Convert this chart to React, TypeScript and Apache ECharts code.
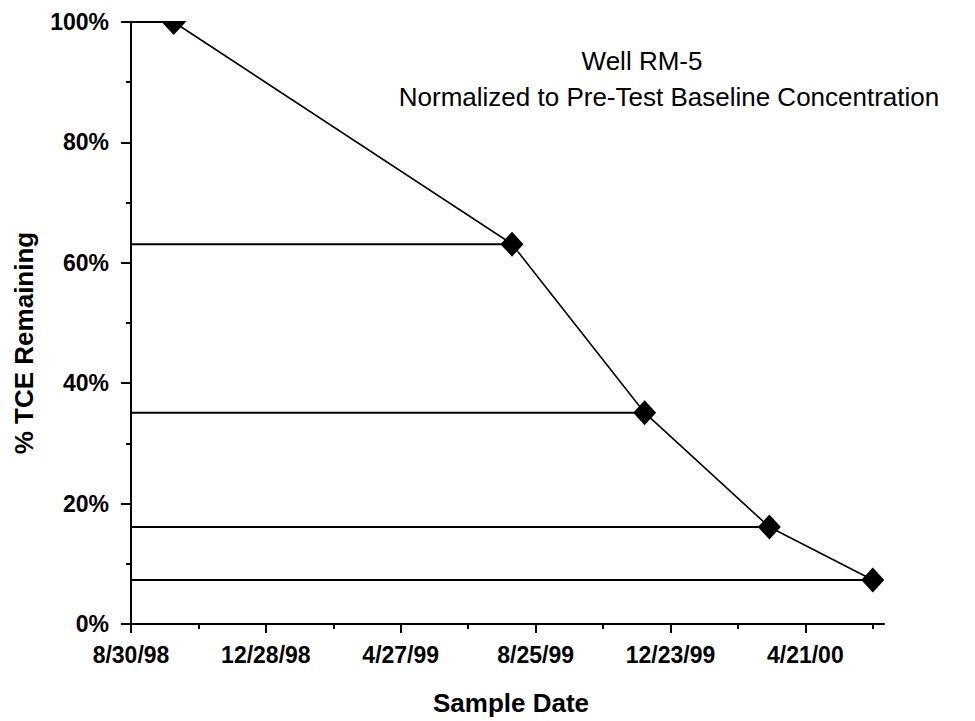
import React, { useEffect, useRef } from "react";
import * as echarts from "echarts";

// ---- data ----
const baseDate = "1998-08-30";
const sampleDates = ["1998-10-07", "1999-08-04", "1999-11-30", "2000-03-20", "2000-06-20"];
const tceRemaining = [100, 63.1, 35.1, 16.1, 7.3];
const axisEndDays = 670;
const majorTickDays = [0, 120, 240, 360, 480, 600];
const minorTickDays = [60, 180, 300, 420, 540, 660];
const titleLine1 = "Well RM-5";
const titleLine2 = "Normalized to Pre-Test Baseline Concentration";
const xAxisTitle = "Sample Date";
const yAxisTitle = "% TCE Remaining";

const DAY = 86400000;
const baseMs = Date.parse(baseDate + "T00:00:00Z");
const toDays = (s: string) => Math.round((Date.parse(s + "T00:00:00Z") - baseMs) / DAY);
const fmtDate = (days: number) => {
  const d = new Date(baseMs + days * DAY);
  const yy = String(d.getUTCFullYear() % 100).padStart(2, "0");
  return `${d.getUTCMonth() + 1}/${d.getUTCDate()}/${yy}`;
};

const FONT = "'Liberation Sans', Arial, sans-serif";

export default function App() {
  const ref = useRef<HTMLDivElement>(null);
  useEffect(() => {
    document.body.style.margin = "0";
    document.body.style.overflow = "hidden";
    const chart = echarts.init(ref.current!, null, { renderer: "svg" });
    const pts = sampleDates.map((s, i) => [toDays(s), tceRemaining[i]]);
    const topPts = pts.filter((p) => p[1] >= 100);
    const hLines = pts.map((p) => ({
      type: "line",
      data: [[0, p[1]], p],
      symbol: "none",
      clip: false,
      silent: true,
      lineStyle: { color: "#000", width: 2 },
      z: 1,
    }));
    const axisLineStyle = { color: "#000", width: 2 };
    chart.setOption({
      animation: false,
      backgroundColor: "#fff",
      grid: { left: 131, right: 91, top: 22, bottom: 97 },
      xAxis: [
        {
          type: "value",
          min: 0,
          max: axisEndDays,
          interval: 120,
          position: "bottom",
          axisLine: { show: true, onZero: false, lineStyle: axisLineStyle },
          axisTick: { show: true, length: 9, customValues: majorTickDays, lineStyle: axisLineStyle },
          axisLabel: {
            customValues: majorTickDays,
            formatter: (v: number) => fmtDate(v),
            color: "#000",
            fontFamily: FONT,
            fontWeight: "bold",
            fontSize: 23,
            margin: 19,
          },
          splitLine: { show: false },
        },
        {
          type: "value",
          min: 0,
          max: axisEndDays,
          position: "bottom",
          axisLine: { show: false },
          axisTick: { show: true, length: 5, customValues: minorTickDays, lineStyle: axisLineStyle },
          axisLabel: { show: false },
          splitLine: { show: false },
        },
      ],
      yAxis: {
        type: "value",
        min: 0,
        max: 100,
        interval: 20,
        axisLine: { show: true, lineStyle: axisLineStyle },
        axisTick: { show: true, length: 10, lineStyle: axisLineStyle },
        minorTick: { show: true, splitNumber: 2, length: 5, lineStyle: axisLineStyle },
        axisLabel: {
          formatter: "{value}%",
          color: "#000",
          fontFamily: FONT,
          fontWeight: "bold",
          fontSize: 23,
          margin: 22,
        },
        splitLine: { show: false },
      },
      graphic: [
        {
          type: "text",
          x: 642,
          y: 61,
          style: { text: titleLine1, font: `26px ${FONT}`, fill: "#000", align: "center", verticalAlign: "middle" },
        },
        {
          type: "text",
          x: 669,
          y: 97,
          style: { text: titleLine2, font: `26px ${FONT}`, fill: "#000", align: "center", verticalAlign: "middle" },
        },
        {
          type: "text",
          x: 511,
          y: 703,
          style: { text: xAxisTitle, font: `bold 26px ${FONT}`, fill: "#000", align: "center", verticalAlign: "middle" },
        },
        {
          type: "text",
          x: 24,
          y: 343,
          rotation: Math.PI / 2,
          style: { text: yAxisTitle, font: `bold 26px ${FONT}`, fill: "#000", align: "center", verticalAlign: "middle" },
        },
      ],
      series: [
        ...hLines,
        {
          type: "line",
          data: pts,
          symbol: (v: number[]) => (v[1] >= 100 ? "none" : "diamond"),
          symbolSize: [23, 25],
          clip: false,
          itemStyle: { color: "#000" },
          lineStyle: { color: "#000", width: 1.6 },
          z: 3,
        },
        {
          type: "scatter",
          data: topPts,
          symbol: "path://M0 0 L20 0 L10 11 Z",
          symbolSize: [26, 14],
          symbolOffset: [0, 6],
          clip: false,
          itemStyle: { color: "#000", opacity: 1 },
          z: 4,
        },
      ],
    });
    return () => chart.dispose();
  }, []);
  return <div ref={ref} style={{ width: 975, height: 721 }} />;
}
